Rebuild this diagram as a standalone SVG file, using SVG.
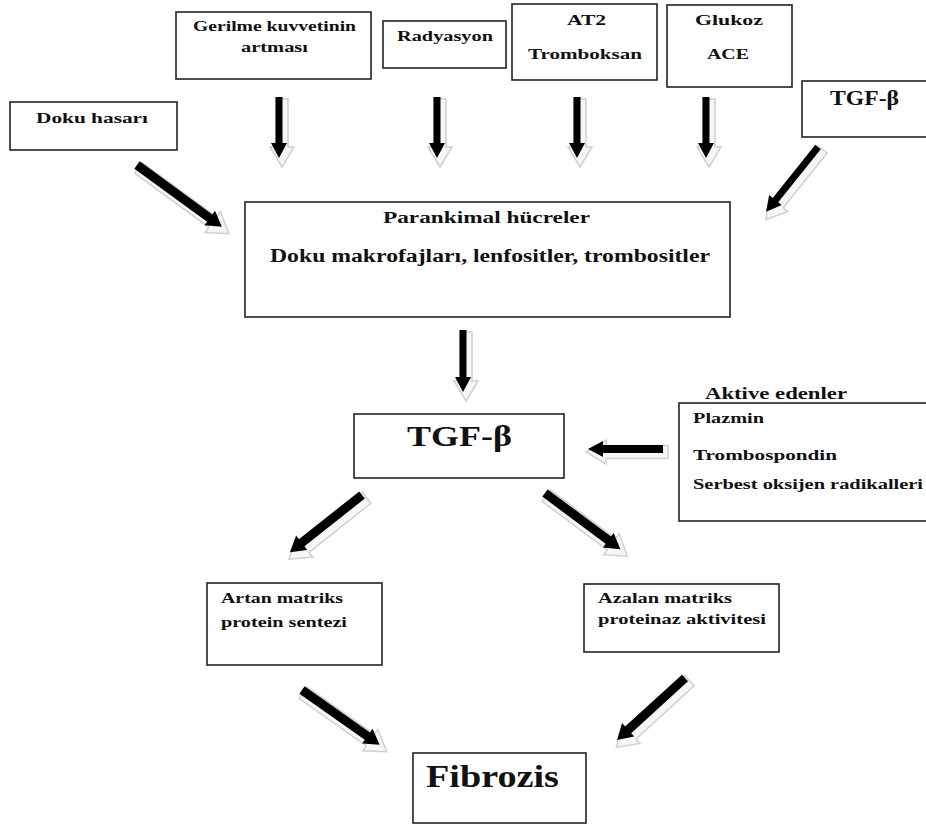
<svg xmlns="http://www.w3.org/2000/svg" width="926" height="827" viewBox="0 0 926 827">
<style>
.box{fill:#fff;stroke:#222;stroke-width:1.6}
.t{font-family:"Liberation Serif","Times New Roman",serif;font-weight:bold;fill:#111;font-size:15px}
.ah{fill:#000}
.sh{fill:#f6f6f6;stroke:#d0d0d0;stroke-width:1.5}
</style>
<rect width="926" height="827" fill="#fff"/>

<g id="connectors">
  <g transform="translate(140,169) rotate(36.1)"><path class="sh" d="M-2,-6.5H90V-13L110,0L90,13V6.5H-2Z"/></g>
  <g transform="translate(137,165) rotate(36.1)"><path class="ah" d="M0,-4.5H90V-9L105,0L90,9V4.5H0Z"/></g>
  <g transform="translate(282,101) rotate(90)"><path class="sh" d="M-2,-6H46V-12L66,0L46,12V6H-2Z"/></g>
  <g transform="translate(279,97) rotate(90)"><path class="ah" d="M0,-3.5H46V-8L61,0L46,8V3.5H0Z"/></g>
  <g transform="translate(440,101) rotate(90)"><path class="sh" d="M-2,-6H46V-12L66,0L46,12V6H-2Z"/></g>
  <g transform="translate(437,97) rotate(90)"><path class="ah" d="M0,-3.5H46V-8L61,0L46,8V3.5H0Z"/></g>
  <g transform="translate(580,101) rotate(90)"><path class="sh" d="M-2,-6H46V-12L66,0L46,12V6H-2Z"/></g>
  <g transform="translate(577,97) rotate(90)"><path class="ah" d="M0,-3.5H46V-8L61,0L46,8V3.5H0Z"/></g>
  <g transform="translate(709,101) rotate(90)"><path class="sh" d="M-2,-6H46V-12L66,0L46,12V6H-2Z"/></g>
  <g transform="translate(706,97) rotate(90)"><path class="ah" d="M0,-3.5H46V-8L61,0L46,8V3.5H0Z"/></g>
  <g transform="translate(821,151) rotate(128.7)"><path class="sh" d="M-2,-6H68V-12L88,0L68,12V6H-2Z"/></g>
  <g transform="translate(818,147) rotate(128.7)"><path class="ah" d="M0,-3.5H68V-8L83,0L68,8V3.5H0Z"/></g>
  <g transform="translate(466,334) rotate(90)"><path class="sh" d="M-2,-6H47V-12L67,0L47,12V6H-2Z"/></g>
  <g transform="translate(463,330) rotate(90)"><path class="ah" d="M0,-3.5H47V-8L62,0L47,8V3.5H0Z"/></g>
  <g transform="translate(666,452) rotate(180)"><path class="sh" d="M-2,-6.5H60V-12L80,0L60,12V6.5H-2Z"/></g>
  <g transform="translate(663,449) rotate(180)"><path class="ah" d="M0,-4H60V-8L75,0L60,8V4H0Z"/></g>
  <g transform="translate(365,499) rotate(141.6)"><path class="sh" d="M-2,-7H77V-13L97,0L77,13V7H-2Z"/></g>
  <g transform="translate(362,495) rotate(141.6)"><path class="ah" d="M0,-4.5H77V-9L92,0L77,9V4.5H0Z"/></g>
  <g transform="translate(548,497) rotate(36.7)"><path class="sh" d="M-2,-7H79V-13L99,0L79,13V7H-2Z"/></g>
  <g transform="translate(545,493) rotate(36.7)"><path class="ah" d="M0,-4.5H79V-9L94,0L79,9V4.5H0Z"/></g>
  <g transform="translate(305,694) rotate(35.2)"><path class="sh" d="M-2,-7H80V-13L100,0L80,13V7H-2Z"/></g>
  <g transform="translate(302,690) rotate(35.2)"><path class="ah" d="M0,-4.5H80V-9L95,0L80,9V4.5H0Z"/></g>
  <g transform="translate(688,682) rotate(137.6)"><path class="sh" d="M-2,-7H77V-13L97,0L77,13V7H-2Z"/></g>
  <g transform="translate(685,678) rotate(137.6)"><path class="ah" d="M0,-4.5H77V-9L92,0L77,9V4.5H0Z"/></g>
</g>

<g id="gerilme">
  <rect class="box" x="176" y="12" width="195" height="67"/>
  <text class="t" x="193" y="31" textLength="163" lengthAdjust="spacingAndGlyphs">Gerilme kuvvetinin</text>
  <text class="t" x="241" y="52" textLength="67" lengthAdjust="spacingAndGlyphs">artması</text>
</g>
<g id="radyasyon">
  <rect class="box" x="383" y="21" width="123" height="47"/>
  <text class="t" x="397" y="41" textLength="96" lengthAdjust="spacingAndGlyphs">Radyasyon</text>
</g>
<g id="at2">
  <rect class="box" x="512" y="4" width="145" height="76"/>
  <text class="t" x="567" y="25" textLength="39" lengthAdjust="spacingAndGlyphs">AT2</text>
  <text class="t" x="528" y="59" textLength="114" lengthAdjust="spacingAndGlyphs">Tromboksan</text>
</g>
<g id="glukoz">
  <rect class="box" x="667" y="5" width="125" height="82"/>
  <text class="t" x="695" y="25" textLength="68" lengthAdjust="spacingAndGlyphs">Glukoz</text>
  <text class="t" x="707" y="59" textLength="42" lengthAdjust="spacingAndGlyphs">ACE</text>
</g>
<g id="tgf-top">
  <rect class="box" x="802" y="81" width="135" height="56"/>
  <text class="t" x="830" y="105" style="font-size:21px" textLength="69" lengthAdjust="spacingAndGlyphs">TGF-β</text>
</g>
<g id="doku-hasari">
  <rect class="box" x="10" y="102" width="167" height="48"/>
  <text class="t" x="36" y="123" textLength="112" lengthAdjust="spacingAndGlyphs">Doku hasarı</text>
</g>
<g id="parankimal">
  <rect class="box" x="245" y="202" width="485" height="115"/>
  <text class="t" x="383" y="223" style="font-size:17px" textLength="207" lengthAdjust="spacingAndGlyphs">Parankimal hücreler</text>
  <text class="t" x="270" y="262" style="font-size:18px" textLength="440" lengthAdjust="spacingAndGlyphs">Doku makrofajları, lenfositler, trombositler</text>
</g>
<g id="tgf-main">
  <rect class="box" x="354" y="414" width="210" height="64"/>
  <text class="t" x="407" y="446" style="font-size:29px" textLength="105" lengthAdjust="spacingAndGlyphs">TGF-β</text>
</g>
<g id="aktive-edenler">
  <text class="t" x="705" y="399" style="font-size:16px" textLength="142" lengthAdjust="spacingAndGlyphs">Aktive edenler</text>
  <rect class="box" x="679" y="403" width="260" height="118"/>
  <text class="t" x="693" y="423" textLength="71" lengthAdjust="spacingAndGlyphs">Plazmin</text>
  <text class="t" x="693" y="460" textLength="144" lengthAdjust="spacingAndGlyphs">Trombospondin</text>
  <text class="t" x="693" y="489" textLength="230" lengthAdjust="spacingAndGlyphs">Serbest oksijen radikalleri</text>
</g>
<g id="artan">
  <rect class="box" x="207" y="583" width="175" height="82"/>
  <text class="t" x="221" y="603" textLength="122" lengthAdjust="spacingAndGlyphs">Artan matriks</text>
  <text class="t" x="221" y="627" textLength="126" lengthAdjust="spacingAndGlyphs">protein sentezi</text>
</g>
<g id="azalan">
  <rect class="box" x="584" y="584" width="195" height="68"/>
  <text class="t" x="598" y="603" textLength="134" lengthAdjust="spacingAndGlyphs">Azalan matriks</text>
  <text class="t" x="598" y="624" textLength="168" lengthAdjust="spacingAndGlyphs">proteinaz aktivitesi</text>
</g>
<g id="fibrozis">
  <rect class="box" x="413" y="753" width="173" height="70"/>
  <text class="t" x="426" y="787" style="font-size:31px" textLength="133" lengthAdjust="spacingAndGlyphs">Fibrozis</text>
</g>
</svg>
